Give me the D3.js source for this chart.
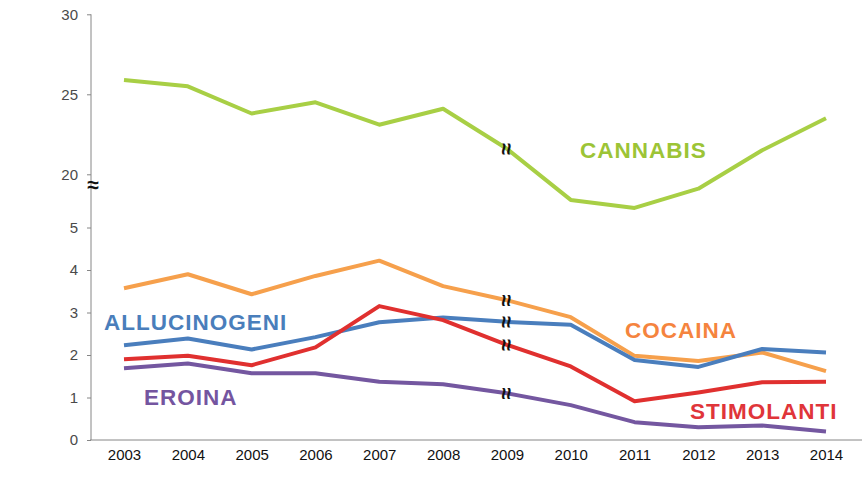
<!DOCTYPE html>
<html><head><meta charset="utf-8">
<script src="https://cdn.jsdelivr.net/npm/d3@7"></script>
<style>
body{margin:0;background:#fff;}
svg{display:block;font-family:"Liberation Sans",Arial,sans-serif;}
</style></head><body>
<svg id="c" width="868" height="490"></svg>
<script>
const years = ["2003","2004","2005","2006","2007","2008","2009","2010","2011","2012","2013","2014"];
const cannabis     = [25.9,25.5,23.8,24.5,23.1,24.1,21.6,18.4,17.9,19.1,21.5,23.5];
const cocaina      = [3.57,3.90,3.43,3.86,4.22,3.62,3.29,2.89,1.98,1.86,2.06,1.62];
const allucinogeni = [2.23,2.39,2.13,2.42,2.77,2.88,2.78,2.71,1.88,1.72,2.14,2.06];
const stimolanti   = [1.90,1.98,1.76,2.18,3.15,2.82,2.24,1.73,0.91,1.12,1.36,1.37];
const eroina       = [1.69,1.80,1.57,1.57,1.37,1.31,1.10,0.82,0.42,0.30,0.34,0.20];
const lowTicks = [0,1,2,3,4,5];
const highTicks = [20,25,30];

const svg = d3.select("#c");
const x = d3.scalePoint().domain(years).range([124,826]);
const yLow = d3.scaleLinear().domain([0,5]).range([440,227.5]);
const yHigh = d3.scaleLinear().domain([20,30]).range([174.3,14.3]);

const axisColor = "#868686";
const gL = svg.append("g").attr("transform","translate(91,0)")
  .call(d3.axisLeft(yLow).tickValues(lowTicks).tickFormat(d3.format("d")).tickSize(4).tickSizeOuter(0).tickPadding(9));
const gH = svg.append("g").attr("transform","translate(91,0)")
  .call(d3.axisLeft(yHigh).tickValues(highTicks).tickFormat(d3.format("d")).tickSize(4).tickSizeOuter(0).tickPadding(9));
[gL,gH].forEach(g=>{
  g.select(".domain").remove();
  g.selectAll("line").attr("stroke",axisColor);
  g.selectAll("text").attr("fill","#4a4a4a").style("font-size","15px")
   .style("font-family","'Liberation Sans',Arial,sans-serif");
});
svg.append("line").attr("x1",91).attr("x2",91).attr("y1",yHigh(30)).attr("y2",yLow(0))
  .attr("stroke",axisColor).attr("stroke-width",1);

const gX = svg.append("g").attr("transform","translate(0,440)")
  .call(d3.axisBottom(x).tickSize(0).tickPadding(9));
gX.select(".domain").remove();
gX.selectAll("text").attr("fill","#111").style("font-size","15px")
  .style("font-family","'Liberation Sans',Arial,sans-serif");
svg.append("line").attr("x1",90).attr("x2",862).attr("y1",440).attr("y2",440)
  .attr("stroke",axisColor).attr("stroke-width",1);

// y-axis break mark
svg.append("text").attr("x",93).attr("y",192).attr("text-anchor","middle")
  .style("font-size","21px").style("font-weight","bold").attr("fill","#111").text("≈");

const series = [
  {name:"CANNABIS", vals:cannabis, y:yHigh, color:"#a8cf45"},
  {name:"COCAINA", vals:cocaina, y:yLow, color:"#f6a04c"},
  {name:"ALLUCINOGENI", vals:allucinogeni, y:yLow, color:"#4a7ebd"},
  {name:"STIMOLANTI", vals:stimolanti, y:yLow, color:"#e0302f"},
  {name:"EROINA", vals:eroina, y:yLow, color:"#7457a0"}
];
series.forEach(s=>{
  const line = d3.line().x((d,i)=>x(years[i])).y(d=>s.y(d));
  svg.append("path").datum(s.vals).attr("d",line).attr("fill","none")
    .attr("stroke",s.color).attr("stroke-width",4).attr("stroke-linejoin","round");
});

// line break marks at 2009
series.forEach(s=>{
  const i = years.indexOf("2009");
  const px = x(years[i]), py = s.y(s.vals[i]);
  svg.append("text").attr("transform",`translate(${px},${py}) rotate(90)`)
    .attr("text-anchor","middle").attr("dy","0.35em")
    .style("font-size","22px").style("font-weight","bold").attr("fill","#111").text("≈");
});

const labels = [
  {t:"CANNABIS", x:580, y:158, c:"#9cc436"},
  {t:"ALLUCINOGENI", x:104, y:330, c:"#4a7ebb"},
  {t:"EROINA", x:144, y:405, c:"#7455a0"},
  {t:"COCAINA", x:625, y:338, c:"#f5843e"},
  {t:"STIMOLANTI", x:690, y:419, c:"#e0353a"}
];
labels.forEach(l=>{
  svg.append("text").attr("x",l.x).attr("y",l.y).attr("fill",l.c)
    .style("font-size","22.5px").style("font-weight","bold").style("letter-spacing","1px")
    .style("font-family","'Liberation Sans',Arial,sans-serif").text(l.t);
});
</script>
</body></html>
